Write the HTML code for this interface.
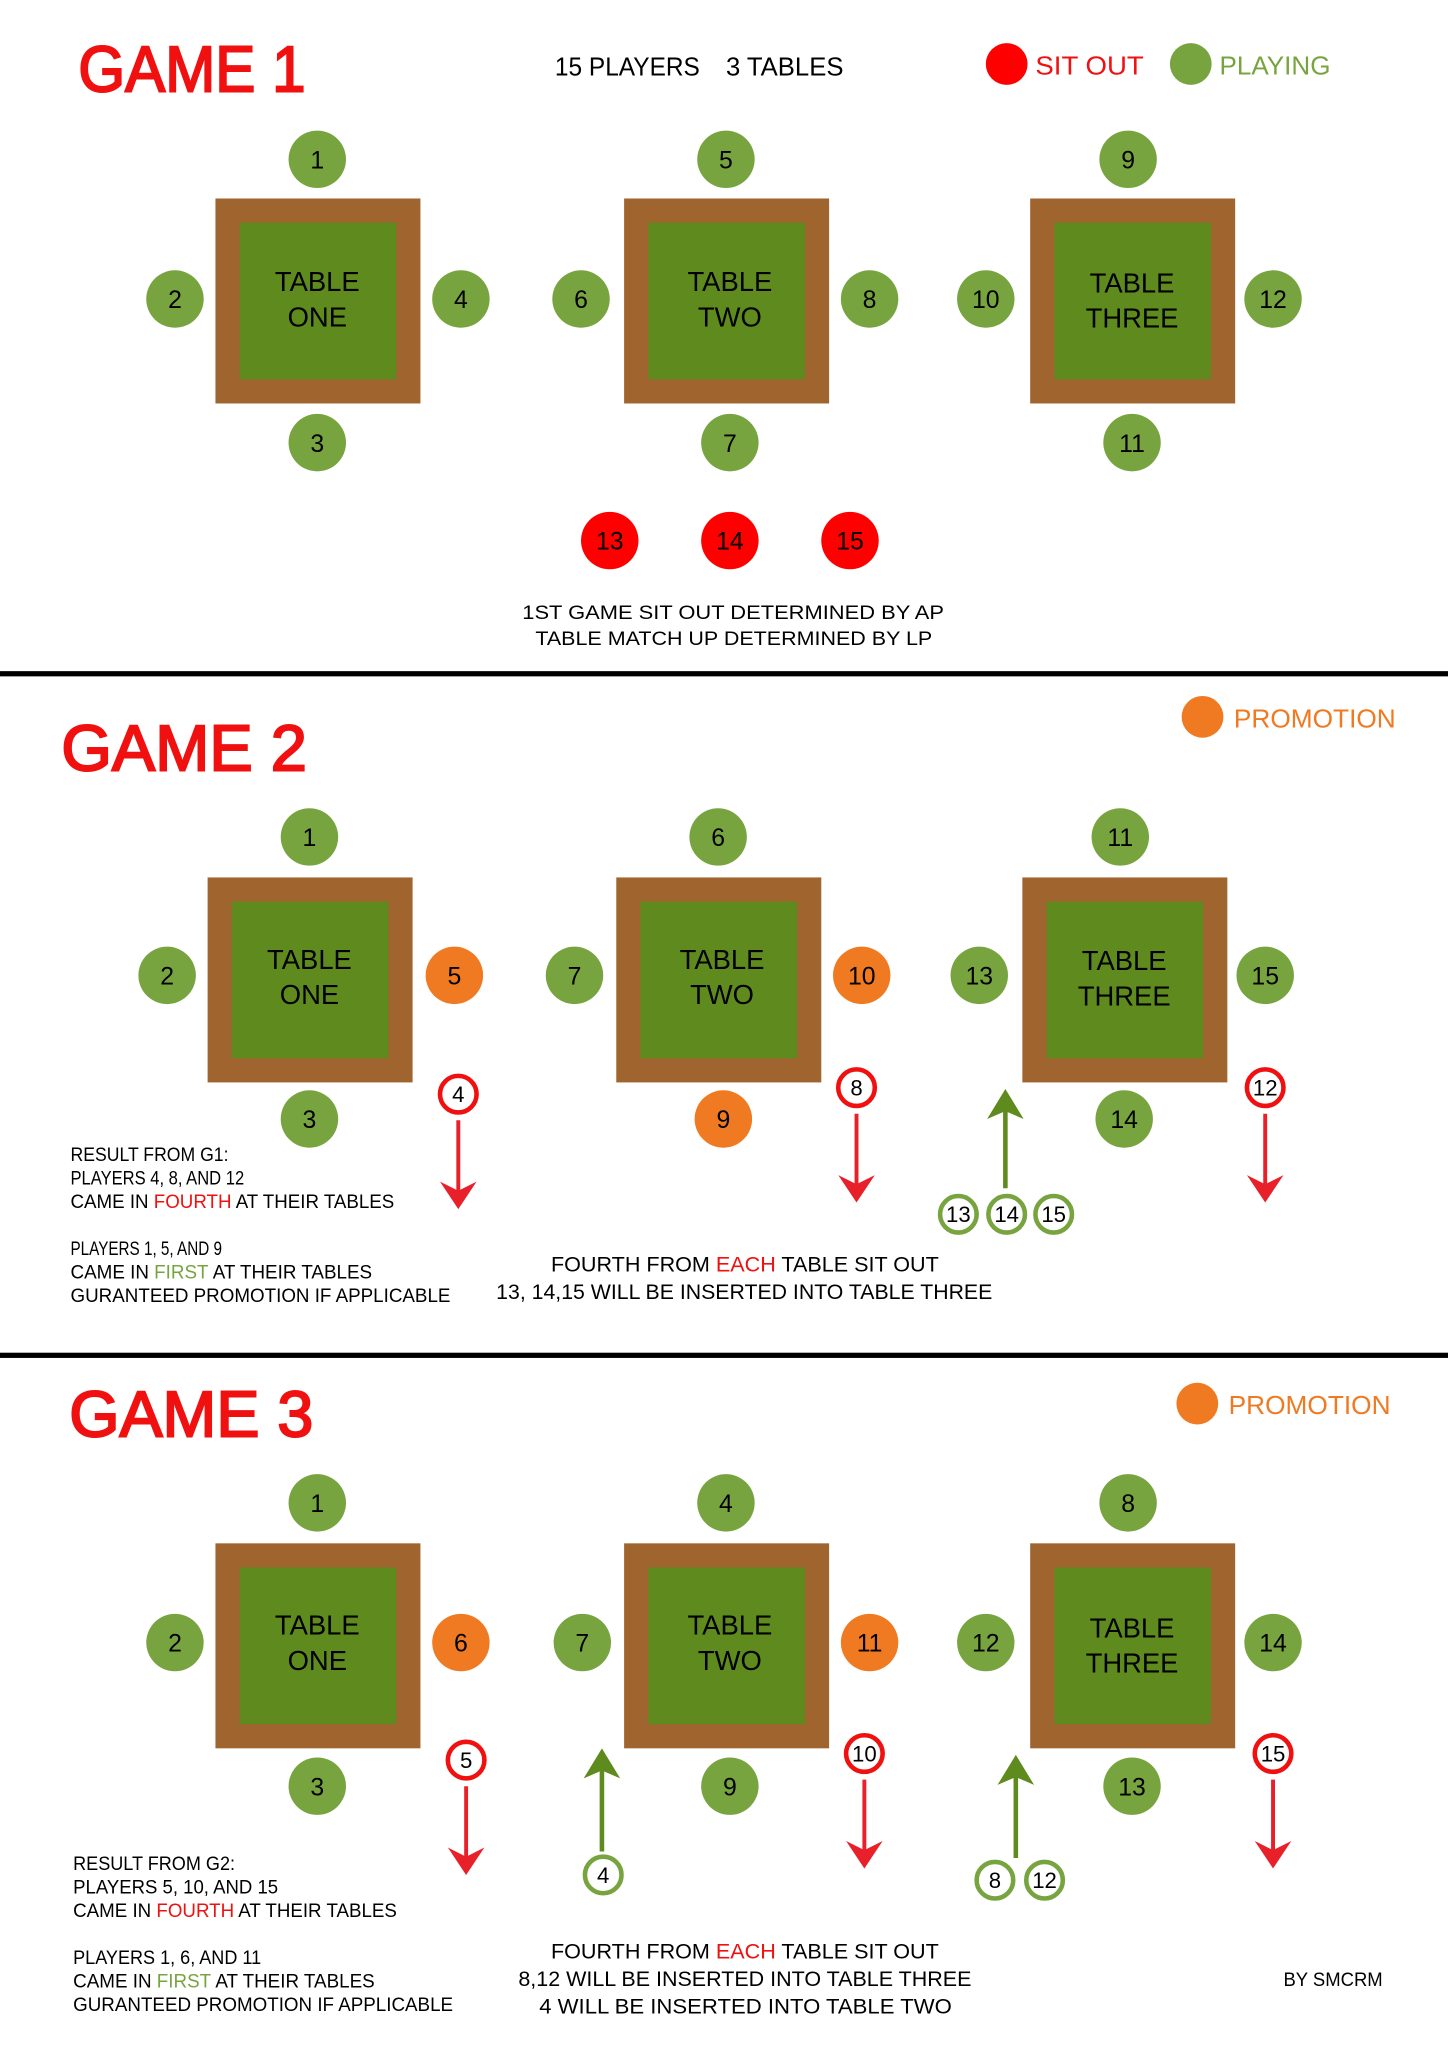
<!DOCTYPE html>
<html><head><meta charset="utf-8"><style>html,body{margin:0;padding:0;background:#fff}svg{display:block}</style></head>
<body>
<svg width="1448" height="2048" viewBox="0 0 1109 1568.5" xmlns="http://www.w3.org/2000/svg" font-family="Liberation Sans, sans-serif">
<defs>
<g id="tbl"><rect x="-78.5" y="-78.5" width="157" height="157" fill="#A0652F"/><rect x="-60" y="-60" width="120" height="120" fill="#5E8A1E"/></g>
</defs>
<rect width="1109" height="1568.5" fill="#fff"/>
<rect x="0" y="514" width="1109" height="4" fill="#000"/>
<rect x="0" y="1036" width="1109" height="4" fill="#000"/>

<g font-size="50" fill="#F01010" stroke="#F01010" stroke-width="1.6">
<text x="60" y="70" textLength="174" lengthAdjust="spacingAndGlyphs">GAME 1</text>
<text x="47" y="590" textLength="188" lengthAdjust="spacingAndGlyphs">GAME 2</text>
<text x="53" y="1100" textLength="187" lengthAdjust="spacingAndGlyphs">GAME 3</text>
</g>
<text x="425" y="58" font-size="20" textLength="111" lengthAdjust="spacingAndGlyphs">15 PLAYERS</text>
<text x="556" y="58" font-size="20" textLength="90" lengthAdjust="spacingAndGlyphs">3 TABLES</text>
<circle cx="771" cy="49" r="16" fill="#FF0000"/>
<text x="793" y="57" font-size="20" fill="#F01010" textLength="83" lengthAdjust="spacingAndGlyphs">SIT OUT</text>
<circle cx="912" cy="49" r="16" fill="#78A440"/>
<text x="934" y="57" font-size="20" fill="#78A440" textLength="85" lengthAdjust="spacingAndGlyphs">PLAYING</text>
<circle cx="921" cy="549" r="16" fill="#EF7A21"/>
<text x="945" y="557" font-size="20" fill="#EF7A21" textLength="124" lengthAdjust="spacingAndGlyphs">PROMOTION</text>
<circle cx="917" cy="1075" r="16" fill="#EF7A21"/>
<text x="941" y="1083" font-size="20" fill="#EF7A21" textLength="124" lengthAdjust="spacingAndGlyphs">PROMOTION</text>

<use href="#tbl" x="243.5" y="230.5"/><use href="#tbl" x="556.5" y="230.5"/><use href="#tbl" x="867.5" y="230.5"/>
<use href="#tbl" x="237.5" y="750.5"/><use href="#tbl" x="550.5" y="750.5"/><use href="#tbl" x="861.5" y="750.5"/>
<use href="#tbl" x="243.5" y="1260.5"/><use href="#tbl" x="556.5" y="1260.5"/><use href="#tbl" x="867.5" y="1260.5"/>
<g font-size="21" text-anchor="middle" fill="#000">
<text x="243" y="223">TABLE</text><text x="243" y="250">ONE</text>
<text x="559" y="223">TABLE</text><text x="559" y="250">TWO</text>
<text x="867" y="224">TABLE</text><text x="867" y="251">THREE</text>
<text x="237" y="742">TABLE</text><text x="237" y="769">ONE</text>
<text x="553" y="742">TABLE</text><text x="553" y="769">TWO</text>
<text x="861" y="743">TABLE</text><text x="861" y="770">THREE</text>
<text x="243" y="1252">TABLE</text><text x="243" y="1279">ONE</text>
<text x="559" y="1252">TABLE</text><text x="559" y="1279">TWO</text>
<text x="867" y="1254">TABLE</text><text x="867" y="1281">THREE</text>
</g>

<g fill="#78A440">
<circle cx="243" cy="122" r="22"/><circle cx="134" cy="229" r="22"/><circle cx="353" cy="229" r="22"/><circle cx="243" cy="339" r="22"/>
<circle cx="556" cy="122" r="22"/><circle cx="445" cy="229" r="22"/><circle cx="666" cy="229" r="22"/><circle cx="559" cy="339" r="22"/>
<circle cx="864" cy="122" r="22"/><circle cx="755" cy="229" r="22"/><circle cx="975" cy="229" r="22"/><circle cx="867" cy="339" r="22"/>
<circle cx="237" cy="641" r="22"/><circle cx="128" cy="747" r="22"/><circle cx="237" cy="857" r="22"/>
<circle cx="550" cy="641" r="22"/><circle cx="440" cy="747" r="22"/>
<circle cx="858" cy="641" r="22"/><circle cx="750" cy="747" r="22"/><circle cx="969" cy="747" r="22"/><circle cx="861" cy="857" r="22"/>
<circle cx="243" cy="1151" r="22"/><circle cx="134" cy="1258" r="22"/><circle cx="243" cy="1368" r="22"/>
<circle cx="556" cy="1151" r="22"/><circle cx="446" cy="1258" r="22"/><circle cx="559" cy="1368" r="22"/>
<circle cx="864" cy="1151" r="22"/><circle cx="755" cy="1258" r="22"/><circle cx="975" cy="1258" r="22"/><circle cx="867" cy="1368" r="22"/>
</g>
<g fill="#EF7A21">
<circle cx="348" cy="747" r="22"/><circle cx="660" cy="747" r="22"/><circle cx="554" cy="857" r="22"/>
<circle cx="353" cy="1258" r="22"/><circle cx="666" cy="1258" r="22"/>
</g>
<g fill="#FF0000"><circle cx="467" cy="414" r="22"/><circle cx="559" cy="414" r="22"/><circle cx="651" cy="414" r="22"/></g>
<g font-size="19" text-anchor="middle" fill="#000">
<text x="243" y="129">1</text><text x="134" y="236">2</text><text x="353" y="236">4</text><text x="243" y="346">3</text>
<text x="556" y="129">5</text><text x="445" y="236">6</text><text x="666" y="236">8</text><text x="559" y="346">7</text>
<text x="864" y="129">9</text><text x="755" y="236">10</text><text x="975" y="236">12</text><text x="867" y="346">11</text>
<text x="467" y="421">13</text><text x="559" y="421">14</text><text x="651" y="421">15</text>
<text x="237" y="648">1</text><text x="128" y="754">2</text><text x="348" y="754">5</text><text x="237" y="864">3</text>
<text x="550" y="648">6</text><text x="440" y="754">7</text><text x="660" y="754">10</text><text x="554" y="864">9</text>
<text x="858" y="648">11</text><text x="750" y="754">13</text><text x="969" y="754">15</text><text x="861" y="864">14</text>
<text x="243" y="1158">1</text><text x="134" y="1265">2</text><text x="353" y="1265">6</text><text x="243" y="1375">3</text>
<text x="556" y="1158">4</text><text x="446" y="1265">7</text><text x="666" y="1265">11</text><text x="559" y="1375">9</text>
<text x="864" y="1158">8</text><text x="755" y="1265">12</text><text x="975" y="1265">14</text><text x="867" y="1375">13</text>
</g>

<g fill="#fff" stroke="#F01010" stroke-width="3.5">
<circle cx="351" cy="838" r="14"/><circle cx="656" cy="833" r="14"/><circle cx="969" cy="833" r="14"/>
<circle cx="357" cy="1348" r="14"/><circle cx="662" cy="1343" r="14"/><circle cx="975" cy="1343" r="14"/>
</g>
<g fill="#fff" stroke="#78A440" stroke-width="3.5">
<circle cx="734" cy="930" r="14"/><circle cx="771" cy="930" r="14"/><circle cx="807" cy="930" r="14"/>
<circle cx="462" cy="1436" r="14"/><circle cx="762" cy="1440" r="14"/><circle cx="800" cy="1440" r="14"/>
</g>
<g font-size="17" text-anchor="middle" fill="#000">
<text x="351" y="844">4</text><text x="656" y="839">8</text><text x="969" y="839">12</text>
<text x="357" y="1354">5</text><text x="662" y="1349">10</text><text x="975" y="1349">15</text>
<text x="734" y="936">13</text><text x="771" y="936">14</text><text x="807" y="936">15</text>
<text x="462" y="1442">4</text><text x="762" y="1446">8</text><text x="800" y="1446">12</text>
</g>

<g stroke="#E8202A" stroke-width="3">
<line x1="351" y1="858" x2="351" y2="915"/><line x1="656" y1="853" x2="656" y2="912"/><line x1="969" y1="853" x2="969" y2="912"/>
<line x1="357" y1="1368" x2="357" y2="1427"/><line x1="662" y1="1363" x2="662" y2="1422"/><line x1="975" y1="1363" x2="975" y2="1422"/>
</g>
<g fill="#E8202A">
<path d="M337 905 L351 926 L365 905 L351 912Z"/><path d="M642 900 L656 921 L670 900 L656 907Z"/><path d="M955 900 L969 921 L983 900 L969 907Z"/>
<path d="M343 1415 L357 1436 L371 1415 L357 1422Z"/><path d="M648 1410 L662 1431 L676 1410 L662 1417Z"/><path d="M961 1410 L975 1431 L989 1410 L975 1417Z"/>
</g>
<g stroke="#5E8A1E" stroke-width="3.5">
<line x1="770" y1="910" x2="770" y2="845"/><line x1="461" y1="1418" x2="461" y2="1350"/><line x1="778" y1="1423" x2="778" y2="1355"/>
</g>
<g fill="#5E8A1E">
<path d="M756 857 L770 834 L784 857 L770 851Z"/><path d="M447 1362 L461 1339 L475 1362 L461 1356Z"/><path d="M764 1367 L778 1344 L792 1367 L778 1361Z"/>
</g>

<g font-size="15" fill="#000">
<text x="400" y="474" textLength="323" lengthAdjust="spacingAndGlyphs">1ST GAME SIT OUT DETERMINED BY AP</text>
<text x="410" y="494" textLength="304" lengthAdjust="spacingAndGlyphs">TABLE MATCH UP DETERMINED BY LP</text>

<text x="54" y="889" textLength="121" lengthAdjust="spacingAndGlyphs">RESULT FROM G1:</text>
<text x="54" y="907" textLength="133" lengthAdjust="spacingAndGlyphs">PLAYERS 4, 8, AND 12</text>
<text x="54" y="925" textLength="248" lengthAdjust="spacingAndGlyphs">CAME IN <tspan fill="#F01010">FOURTH</tspan> AT THEIR TABLES</text>
<text x="54" y="961" textLength="116" lengthAdjust="spacingAndGlyphs">PLAYERS 1, 5, AND 9</text>
<text x="54" y="979" textLength="231" lengthAdjust="spacingAndGlyphs">CAME IN <tspan fill="#78A440">FIRST</tspan> AT THEIR TABLES</text>
<text x="54" y="997" textLength="291" lengthAdjust="spacingAndGlyphs">GURANTEED PROMOTION IF APPLICABLE</text>
<text x="422" y="974" font-size="16" textLength="297" lengthAdjust="spacingAndGlyphs">FOURTH FROM <tspan fill="#F01010">EACH</tspan> TABLE SIT OUT</text>
<text x="380" y="995" font-size="16" textLength="380" lengthAdjust="spacingAndGlyphs">13, 14,15 WILL BE INSERTED INTO TABLE THREE</text>

<text x="56" y="1432" textLength="124" lengthAdjust="spacingAndGlyphs">RESULT FROM G2:</text>
<text x="56" y="1450" textLength="157" lengthAdjust="spacingAndGlyphs">PLAYERS 5, 10, AND 15</text>
<text x="56" y="1468" textLength="248" lengthAdjust="spacingAndGlyphs">CAME IN <tspan fill="#F01010">FOURTH</tspan> AT THEIR TABLES</text>
<text x="56" y="1504" textLength="144" lengthAdjust="spacingAndGlyphs">PLAYERS 1, 6, AND 11</text>
<text x="56" y="1522" textLength="231" lengthAdjust="spacingAndGlyphs">CAME IN <tspan fill="#78A440">FIRST</tspan> AT THEIR TABLES</text>
<text x="56" y="1540" textLength="291" lengthAdjust="spacingAndGlyphs">GURANTEED PROMOTION IF APPLICABLE</text>
<text x="422" y="1500" font-size="16" textLength="297" lengthAdjust="spacingAndGlyphs">FOURTH FROM <tspan fill="#F01010">EACH</tspan> TABLE SIT OUT</text>
<text x="397" y="1521" font-size="16" textLength="347" lengthAdjust="spacingAndGlyphs">8,12 WILL BE INSERTED INTO TABLE THREE</text>
<text x="413" y="1542" font-size="16" textLength="316" lengthAdjust="spacingAndGlyphs">4 WILL BE INSERTED INTO TABLE TWO</text>
<text x="983" y="1521" textLength="76" lengthAdjust="spacingAndGlyphs">BY SMCRM</text>
</g>
</svg>
</body></html>
